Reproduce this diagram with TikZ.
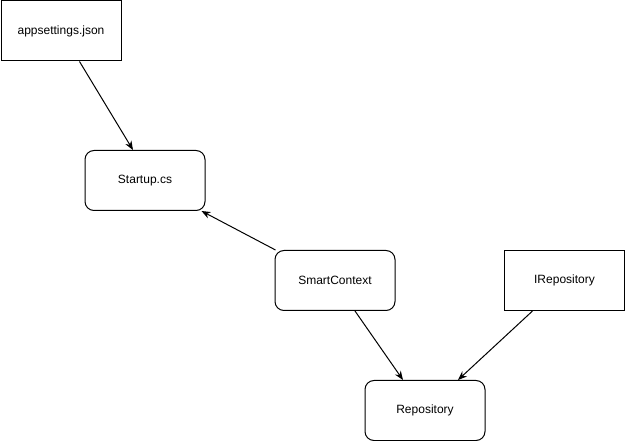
\documentclass[tikz,border=0pt]{standalone}
\usepackage{fontspec}
\setmainfont{Liberation Sans}
\usetikzlibrary{arrows.meta}
\begin{document}
\begin{tikzpicture}[x=1pt,y=-1pt,
  sharpbox/.style={draw=black,line width=1pt,minimum width=120pt,minimum height=60pt,inner sep=0pt,font=\fontsize{12pt}{14pt}\selectfont,anchor=north west},
  roundbox/.style={sharpbox,rounded corners=9pt},
  conn/.style={draw=black,line width=1pt,-{Stealth[length=9pt,width=7pt]}}]
\useasboundingbox[fill=white] (0,0) rectangle (625,441);
\node[sharpbox] (a) at (0.5,0.5) {appsettings.json};
\node[roundbox] (b) at (84.5,150) {Startup.cs};
\node[roundbox] (c) at (274.5,250) {SmartContext};
\node[sharpbox] (i) at (504,250) {IRepository};
\node[roundbox] (r) at (364.5,380) {Repository};
\draw[conn] ([xshift=18.5pt]a.south) -- ([xshift=-12pt]b.north);
\draw[conn] ([xshift=1pt]c.north west) -- ([xshift=-4pt]b.south east);
\draw[conn] ([xshift=20pt]c.south) -- ([xshift=-22pt]r.north);
\draw[conn] ([xshift=-32pt]i.south) -- ([xshift=33pt]r.north);
\end{tikzpicture}
\end{document}
